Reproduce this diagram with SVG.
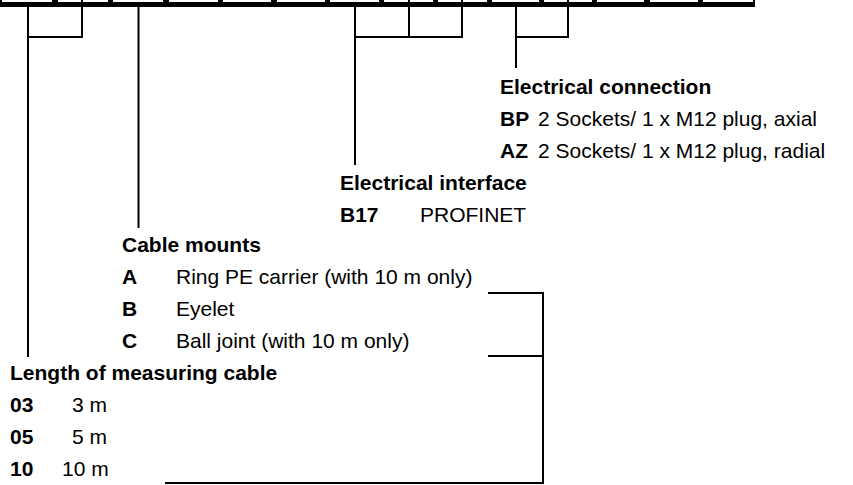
<svg xmlns="http://www.w3.org/2000/svg" width="853" height="485" viewBox="0 0 853 485">
<style>
text{font-family:"Liberation Sans",Arial,Helvetica,sans-serif;font-size:21px;fill:#000}
.b{font-weight:bold}
.ln{stroke:#000;stroke-width:2;fill:none}
</style>
<rect width="853" height="485" fill="#fff"/>
<g id="code-bar">
<rect x="0" y="0" width="755" height="7" fill="#000"/>
<g fill="#fff">
<rect x="2" y="0" width="50" height="2"/>
<rect x="58" y="0" width="50" height="2"/>
<rect x="113" y="0" width="50" height="2"/>
<rect x="169" y="0" width="49" height="2"/>
<rect x="223" y="0" width="48" height="2"/>
<rect x="277" y="0" width="48" height="2"/>
<rect x="330" y="0" width="49" height="2"/>
<rect x="384" y="0" width="49" height="2"/>
<rect x="438" y="0" width="49" height="2"/>
<rect x="492" y="0" width="47" height="2"/>
<rect x="544" y="0" width="48" height="2"/>
<rect x="597" y="0" width="47" height="2"/>
<rect x="650" y="0" width="48" height="2"/>
<rect x="703" y="0" width="50" height="2"/>
</g>
</g>
<g id="connectors" class="ln">
<path d="M28 7V357M28 37H82V0"/>
<path d="M138.5 7V228"/>
<path d="M355 7V165M355 37H462V0M409 37V0"/>
<path d="M516 7V68M516 37H568V0"/>
<path d="M488 293H543V483H165M488 356H543"/>
</g>
<g id="electrical-connection">
<text class="b" x="500" y="94">Electrical connection</text>
<text class="b" x="500" y="126">BP</text><text x="538" y="126">2 Sockets/ 1 x M12 plug, axial</text>
<text class="b" x="500" y="158">AZ</text><text x="538" y="158">2 Sockets/ 1 x M12 plug, radial</text>
</g>
<g id="electrical-interface">
<text class="b" x="340" y="190">Electrical interface</text>
<text class="b" x="340" y="222">B17</text><text x="420" y="222">PROFINET</text>
</g>
<g id="cable-mounts">
<text class="b" x="122" y="252">Cable mounts</text>
<text class="b" x="122" y="284">A</text><text x="176" y="284">Ring PE carrier (with 10 m only)</text>
<text class="b" x="122" y="316">B</text><text x="176" y="316">Eyelet</text>
<text class="b" x="122" y="348">C</text><text x="176" y="348">Ball joint (with 10 m only)</text>
</g>
<g id="cable-length">
<text class="b" x="10" y="380">Length of measuring cable</text>
<text class="b" x="10" y="412">03</text><text x="72" y="412">3 m</text>
<text class="b" x="10" y="444">05</text><text x="72" y="444">5 m</text>
<text class="b" x="10" y="476">10</text><text x="62" y="476">10 m</text>
</g>
</svg>
